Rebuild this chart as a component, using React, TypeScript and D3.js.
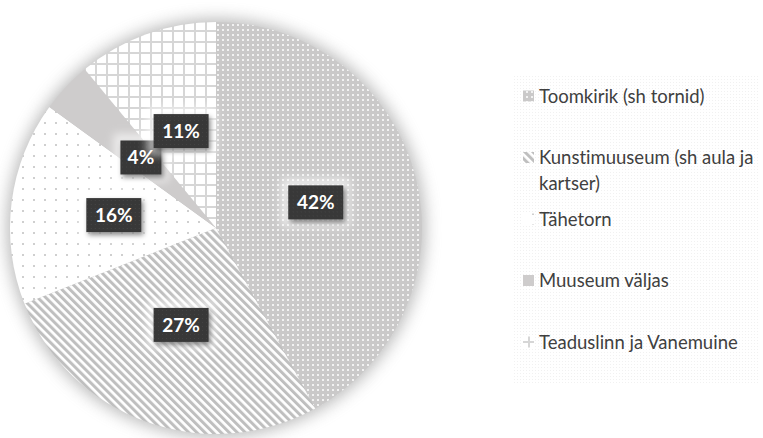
import React from "react";
import * as d3 from "d3";

const categories = [
  "Toomkirik (sh tornid)",
  "Kunstimuuseum (sh aula ja kartser)",
  "Tähetorn",
  "Muuseum väljas",
  "Teaduslinn ja Vanemuine",
];
const values = [42, 27, 16, 4, 11];
const legendLines = [
  ["Toomkirik (sh tornid)"],
  ["Kunstimuuseum (sh aula ja", "kartser)"],
  ["Tähetorn"],
  ["Muuseum väljas"],
  ["Teaduslinn ja Vanemuine"],
];
const patternIds = ["pToom", "pKunst", "pTahe", "pMuus", "pTead"];

const W = 763;
const H = 438;
const cx = 216;
const cy = 228;
const R = 206;

export default function App() {
  const total = d3.sum(values);
  const pie = d3
    .pie<number>()
    .sort(null)
    .value((d) => d)
    .startAngle(0)
    .endAngle(2 * Math.PI);
  const arcs = pie(values);
  const arcGen = d3.arc<d3.PieArcDatum<number>>().innerRadius(0).outerRadius(R);
  const fmt = d3.format(".0%");

  const legendY = d3.scaleLinear().domain([0, 4]).range([96, 342]);

  return (
    <svg
      width={W}
      height={H}
      style={{ position: "absolute", left: 0, top: 0, background: "#fff", fontVariantLigatures: "none" }}
    >
      <defs>
        <filter id="glow" x="-20%" y="-20%" width="140%" height="140%">
          <feGaussianBlur stdDeviation="8" />
        </filter>
        <filter id="halo" x="-50%" y="-50%" width="200%" height="200%">
          <feGaussianBlur stdDeviation="4" />
        </filter>
        <filter id="boxShadow" x="-30%" y="-30%" width="160%" height="160%">
          <feDropShadow dx="2" dy="3" stdDeviation="2.5" floodColor="#000" floodOpacity="0.45" />
        </filter>
        <pattern id="pToom" width="5" height="5" patternUnits="userSpaceOnUse">
          <rect width="5" height="5" fill="#cac9c9" />
          <rect x="1" y="1" width="2" height="2" fill="#f2f2f2" />
        </pattern>
        <pattern
          id="pKunst"
          width="5.7"
          height="10"
          patternUnits="userSpaceOnUse"
          patternTransform="rotate(-45)"
        >
          <rect width="5.7" height="10" fill="#ffffff" />
          <rect width="3" height="10" fill="#bfbfbf" />
        </pattern>
        <pattern id="pTahe" width="11" height="11" patternUnits="userSpaceOnUse">
          <rect width="11" height="11" fill="#ffffff" />
          <rect x="4" y="4" width="2" height="2" fill="#cfcfcf" />
        </pattern>
        <pattern id="pMuus" width="10" height="10" patternUnits="userSpaceOnUse">
          <rect width="10" height="10" fill="#cecccc" />
        </pattern>
        <pattern id="pTead" width="11" height="11" patternUnits="userSpaceOnUse">
          <rect width="11" height="11" fill="#ffffff" />
          <rect x="0" y="0" width="2" height="11" fill="#d6d6d6" />
          <rect x="0" y="0" width="11" height="2" fill="#d6d6d6" />
        </pattern>
        <pattern id="pBox" width="4" height="4" patternUnits="userSpaceOnUse">
          <rect width="4" height="4" fill="#383838" />
          <rect x="1" y="1" width="1" height="1" fill="#454545" />
        </pattern>
        <pattern id="pLegend" width="3" height="3" patternUnits="userSpaceOnUse">
          <rect width="3" height="3" fill="#ffffff" />
          <rect x="1" y="1" width="1" height="1" fill="#f1f1f1" />
        </pattern>
      </defs>

      {/* outer glow */}
      <circle cx={cx} cy={cy} r={R + 3} fill="#8a8a8a" opacity={0.6} filter="url(#glow)" />

      <g transform={`translate(${cx},${cy})`}>
        {arcs.map((a, i) => (
          <path key={i} d={arcGen(a) || ""} fill={`url(#${patternIds[i]})`} />
        ))}
        {arcs.map((a, i) => {
          const [lx, ly] = arcGen.centroid(a);
          const label = fmt(a.data / total);
          const bw = 13 + 14 * label.length;
          const bh = 34;
          return (
            <g key={"l" + i} transform={`translate(${lx},${ly})`}>
              <rect
                x={-bw / 2 - 7}
                y={-bh / 2 - 7}
                width={bw + 14}
                height={bh + 14}
                fill="#ffffff"
                opacity={0.6}
                filter="url(#halo)"
              />
              <rect
                x={-bw / 2}
                y={-bh / 2}
                width={bw}
                height={bh}
                fill="url(#pBox)"
                filter="url(#boxShadow)"
              />
              <text
                x={0}
                y={0}
                dy="0.36em"
                textAnchor="middle"
                fill="#ffffff"
                fontFamily="Lato, 'Open Sans', sans-serif"
                fontWeight="bold"
                fontSize={19}
              >
                {label}
              </text>
            </g>
          );
        })}
      </g>

      {/* legend */}
      <rect x={513} y={75} width={247} height={309} fill="url(#pLegend)" />
      {categories.map((c, i) => {
        const y0 = legendY(i);
        return (
          <g key={c}>
            <rect
              x={523}
              y={y0 - 5.5}
              width={11}
              height={11}
              fill={`url(#${patternIds[i]})`}
            />
            {legendLines[i].map((line, j) => (
              <text
                key={j}
                x={539}
                y={y0 + j * 26}
                dy="0.36em"
                fill="#404040"
                fontFamily="Lato, 'Open Sans', sans-serif"
                fontSize={18.5}
              >
                {line}
              </text>
            ))}
          </g>
        );
      })}
    </svg>
  );
}
